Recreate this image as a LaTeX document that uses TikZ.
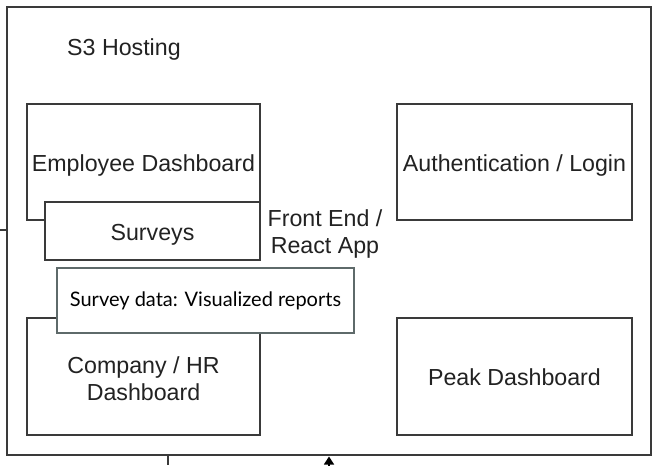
\documentclass[tikz,border=0pt]{standalone}
\usepackage{fontspec}
\setmainfont{Liberation Sans}
\newfontfamily\latofont{Lato}
\usepackage{tikz}
\usetikzlibrary{arrows.meta}

\definecolor{edgegray}{HTML}{3A3A3A}
\definecolor{notegray}{HTML}{5E6A6A}
\definecolor{labelgray}{HTML}{222222}

\tikzset{
	part/.style={draw=edgegray,line width=1.3pt,fill=white,inner sep=0pt,
		text=labelgray,font=\fontsize{23.2}{27}\selectfont,align=center},
	oneline/.style={text height=18.5pt,text depth=0pt},
	note/.style={draw=notegray,line width=1.1pt,fill=white,inner sep=0pt,
		text=black,font=\latofont\fontsize{20}{24}\selectfont}
}

\begin{document}
\begin{tikzpicture}[x=1pt,y=-1pt]
	\useasboundingbox (0,0) rectangle (660,465);
	% outer hosting box
	\node[part,minimum width=644pt,minimum height=448pt] (host) at (329,231) {};
	\node[text=labelgray,font=\fontsize{23.2}{27}\selectfont,oneline,inner sep=0pt,anchor=west] (hostlabel) at (67,46) {S3 Hosting};
	\coordinate (stubin) at (0,230);
	\draw[edgegray,line width=1.3pt] (stubin) -- (host.west |- stubin);
	\coordinate (stubout) at (168,465);
	\draw[edgegray,line width=1.3pt] (host.south -| stubout) -- (stubout);
	\coordinate (arrowfoot) at (329,470);
	\coordinate (arrowtip) at (329,456.5);
	\draw[black,line width=1.3pt,-{Triangle[length=8pt,width=10pt]}] (arrowfoot) -- (arrowtip);
	
	% front end parts
	\node[part,oneline,minimum width=233pt,minimum height=116pt] (employee) at (143.5,162) {Employee Dashboard};
	\node[part,oneline,minimum width=215pt,minimum height=58pt] (surveys) at (152.5,231) {Surveys};
	\node[text=labelgray,font=\fontsize{23.2}{27}\selectfont,align=center] (frontend) at (325,234) {Front End /\\React App};
	\node[part,minimum width=233pt,minimum height=117pt] (company) at (143.5,376.5) {\rule{0pt}{21pt}Company / HR\\Dashboard};
	\node[note,minimum width=297pt,minimum height=65pt] (surveydata) at (205.5,300.5) {Survey data: Visualized reports};
	
	\node[part,oneline,minimum width=235pt,minimum height=116pt] (auth) at (514.5,162) {Authentication / Login};
	\node[part,oneline,minimum width=235pt,minimum height=117pt] (peak) at (514.5,376.5) {Peak Dashboard};
\end{tikzpicture}
\end{document}
